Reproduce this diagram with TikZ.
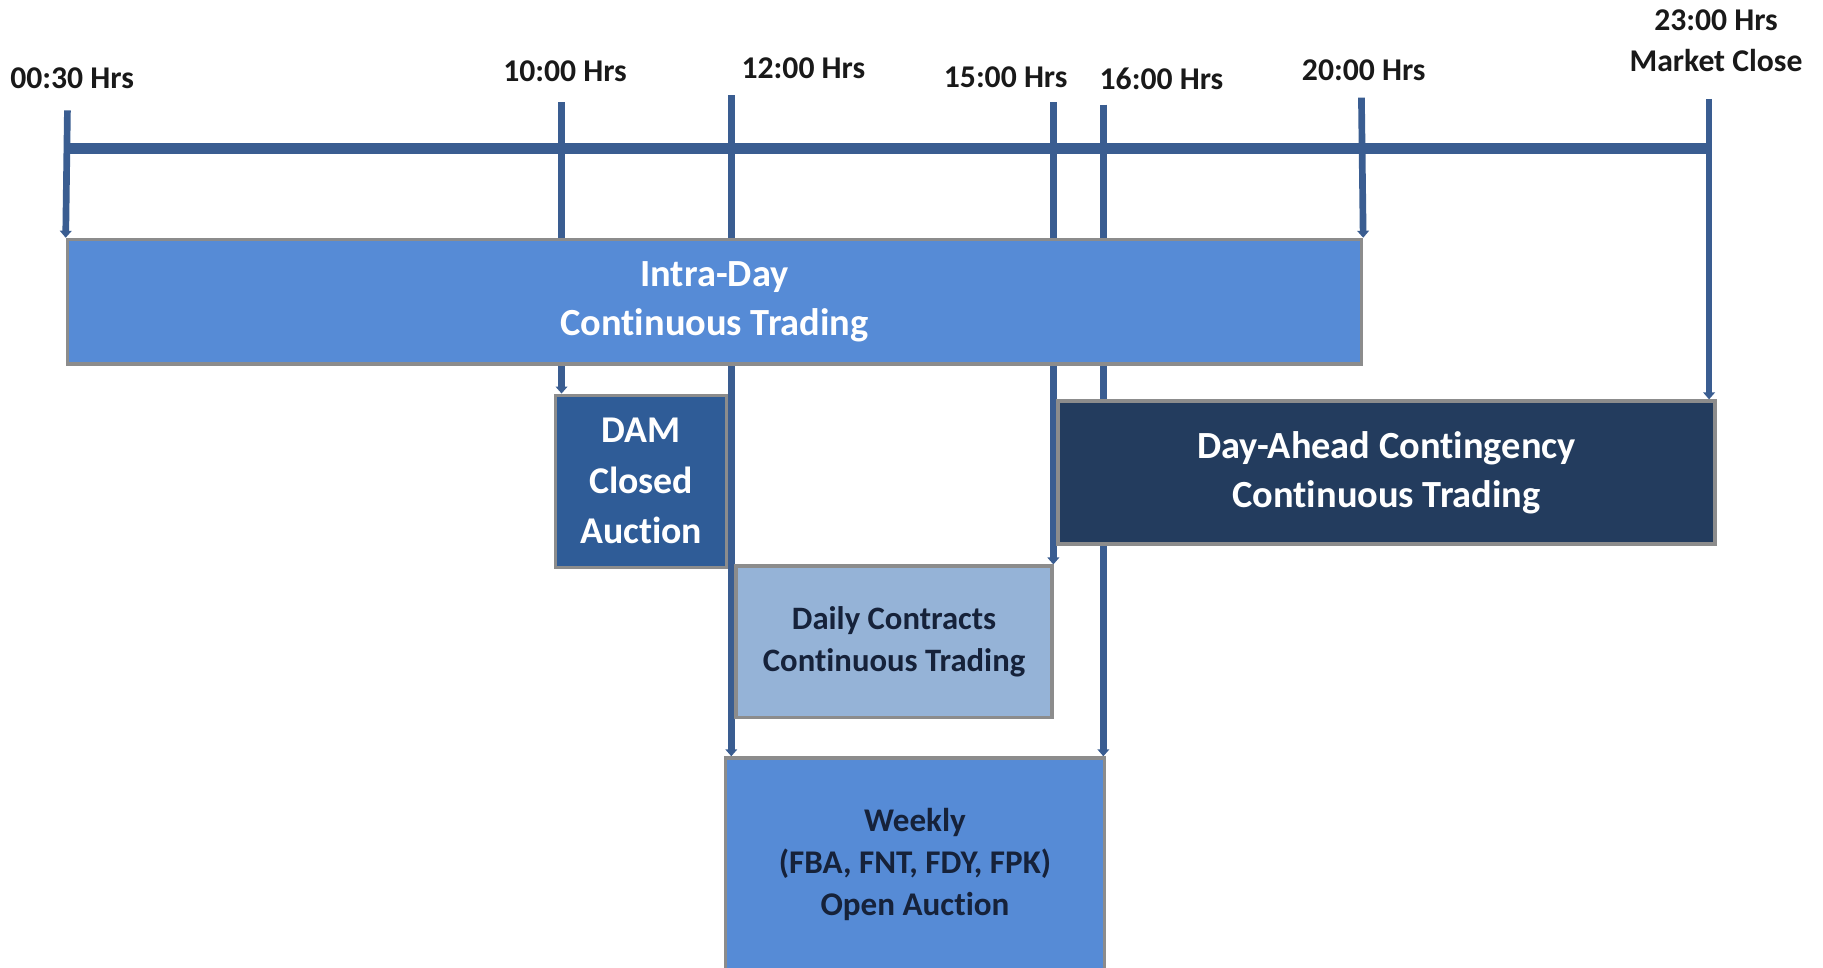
\documentclass[tikz,border=0pt]{standalone}
\usepackage{fontspec}
\setmainfont{Carlito}[Ligatures=NoCommon]
\usetikzlibrary{arrows.meta, positioning, calc, backgrounds}

\definecolor{tickblue}{HTML}{3A5D91}
\definecolor{midblue}{HTML}{568BD6}
\definecolor{damblue}{HTML}{2F5C97}
\definecolor{navy}{HTML}{233C5E}
\definecolor{paleblue}{HTML}{95B3D7}
\definecolor{boxedge}{HTML}{8C8C8C}
\definecolor{darktext}{HTML}{16223A}

\begin{document}
\begin{tikzpicture}[
    x=0.2mm, y=-0.2mm,
    periodbox/.style={draw=boxedge, line width=0.6mm, align=center, inner sep=0pt},
    timelabel/.style={align=center, font=\fontsize{15.5}{20.5}\selectfont\bfseries, text=black!90},
    tickline/.style={draw=tickblue, line width=1.15mm, -{Triangle[width=2mm, length=1.2mm]}},
    bar/.style={draw=tickblue, line width=1.9mm}
]
\useasboundingbox (0,0) rectangle (1568,832);

% time labels
\node[timelabel] (l0030) at (62,67) {00:30 Hrs};
\node[timelabel] (l1000) at (486,61) {10:00 Hrs};
\node[timelabel] (l1200) at (691,59) {12:00 Hrs};
\node[timelabel] (l1500) at (865,66) {15:00 Hrs};
\node[timelabel] (l1600) at (999,68) {16:00 Hrs};
\node[timelabel] (l2000) at (1173,60) {20:00 Hrs};
\node[timelabel] (l2300) at (1476,35) {23:00 Hrs\\Market Close};

% tick tops
\coordinate (k0030) at (58,95);
\coordinate (k1000) at (483,88);
\coordinate (k1200) at (629,82);
\coordinate (k1500) at (906,88);
\coordinate (k1600) at (949,90);
\coordinate (k2000) at (1171,84);
\coordinate (k2300) at (1470,85);

% trading periods
\node[periodbox, fill=midblue, text=white, minimum width=222.6mm, minimum height=21.4mm,
      font=\fontsize{18.8}{24}\selectfont\bfseries] (intra) at (614.5,259.5) {Intra-Day\\Continuous Trading};
\node[periodbox, fill=damblue, text=white, minimum width=29.4mm, minimum height=29.6mm,
      font=\fontsize{18.5}{24.7}\selectfont\bfseries] (dam) at (551.5,414) {DAM\\Closed\\Auction};
\node[periodbox, fill=navy, text=white, minimum width=113mm, minimum height=24.6mm,
      font=\fontsize{18.8}{24}\selectfont\bfseries] (dac) at (1192.5,406.5) {Day-Ahead Contingency\\Continuous Trading};
\node[periodbox, fill=paleblue, text=darktext, minimum width=54.4mm, minimum height=26mm,
      font=\fontsize{16}{20.6}\selectfont\bfseries] (daily) at (769,552) {Daily Contracts\\Continuous Trading};
\node[periodbox, fill=midblue, text=darktext, minimum width=65.2mm, minimum height=36.6mm,
      font=\fontsize{16.2}{20.6}\selectfont\bfseries] (weekly) at (787,743.5) {Weekly\\(FBA, FNT, FDY, FPK)\\Open Auction};

% timeline
\begin{scope}[on background layer]
\draw[bar] (k0030 |- 0,128) -- (k2300 |- 0,128);
\draw[tickline] (k0030) -- (intra.north west);
\draw[tickline] (k1000) -- (k1000 |- dam.north);
\draw[tickline] (k1200) -- (k1200 |- weekly.north);
\draw[tickline] (k1500) -- (k1500 |- daily.north);
\draw[tickline] (k1600) -- (k1600 |- weekly.north);
\draw[tickline] (k2000) -- (intra.north east);
\draw[tickline] (k2300) -- (k2300 |- dac.north);
\end{scope}
\end{tikzpicture}
\end{document}
